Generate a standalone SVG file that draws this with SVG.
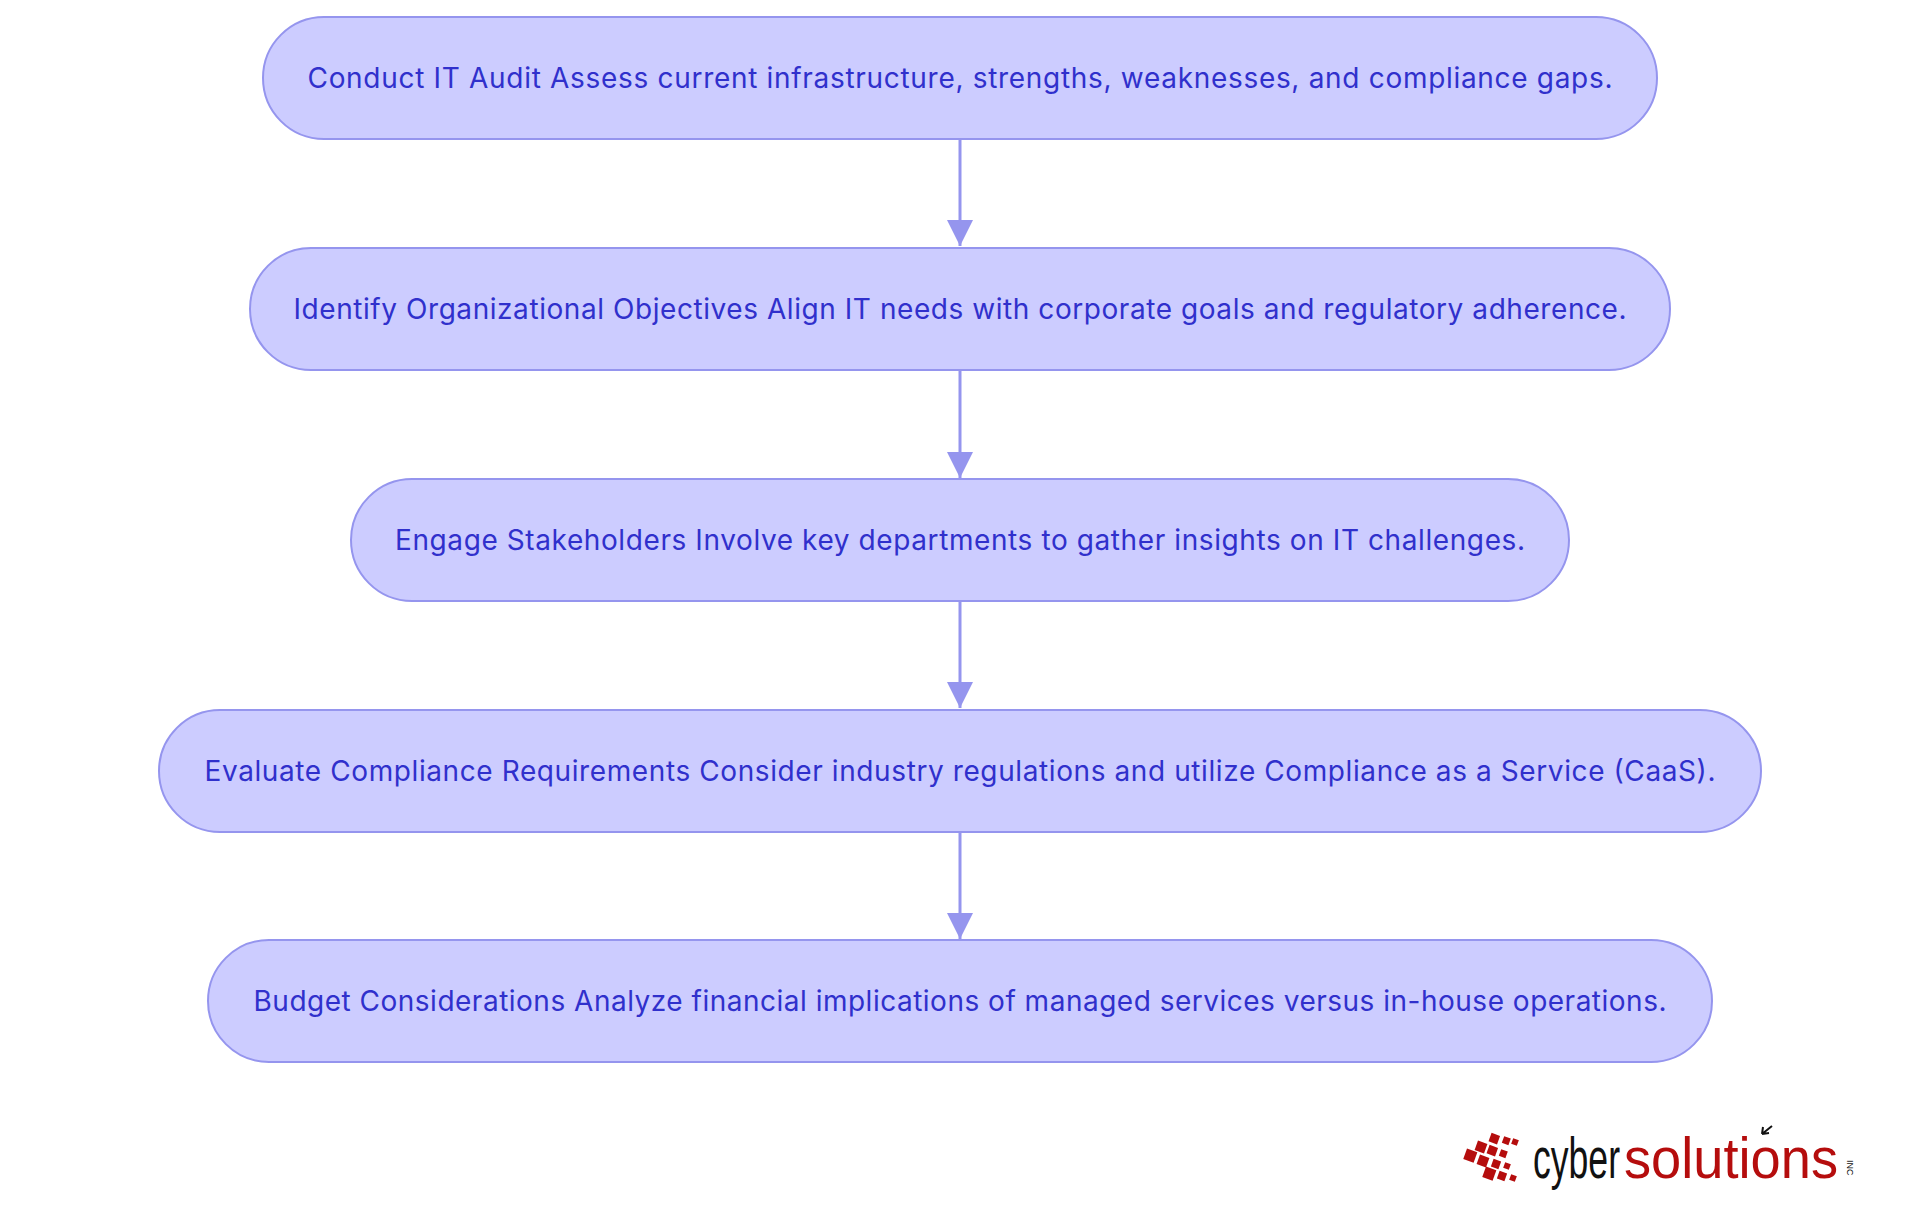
<svg xmlns="http://www.w3.org/2000/svg" width="1920" height="1215" viewBox="0 0 1920 1215">
<style>
.n rect{fill:#ccccff;stroke:#9595ee;stroke-width:2}
.n text{font-family:Inter,"Noto Sans",sans-serif;font-size:28px;fill:#3030cc;text-anchor:middle;dominant-baseline:central}
.c line{stroke:#9595ee;stroke-width:3}
.sq{fill:#b50d0d}
.lg{font-family:"Liberation Sans",sans-serif;font-size:58px}
</style>
<defs>
<marker id="b" viewBox="0 0 10 10" markerWidth="26" markerHeight="26" refX="10" refY="5" orient="auto" markerUnits="userSpaceOnUse"><path d="M0,0L10,5L0,10z" fill="#9595ee"/></marker></defs>
<rect width="1920" height="1215" fill="#fff"/>
<g class="c">
<line x1="960" y1="139" x2="960" y2="246" marker-end="url(#b)"/>
<line x1="960" y1="371" x2="960" y2="478" marker-end="url(#b)"/>
<line x1="960" y1="601" x2="960" y2="708" marker-end="url(#b)"/>
<line x1="960" y1="832" x2="960" y2="939" marker-end="url(#b)"/>
</g>
<g id="n1" class="n"><rect x="263" y="17" width="1394" height="122" rx="61"/><text x="960" y="78" textLength="1305">Conduct IT Audit Assess current infrastructure, strengths, weaknesses, and compliance gaps.</text></g>
<g id="n2" class="n"><rect x="250" y="248" width="1420" height="122" rx="61"/><text x="960" y="309" textLength="1333">Identify Organizational Objectives Align IT needs with corporate goals and regulatory adherence.</text></g>
<g id="n3" class="n"><rect x="351" y="479" width="1218" height="122" rx="61"/><text x="960" y="540" textLength="1130">Engage Stakeholders Involve key departments to gather insights on IT challenges.</text></g>
<g id="n4" class="n"><rect x="159" y="710" width="1602" height="122" rx="61"/><text x="960" y="771" textLength="1511">Evaluate Compliance Requirements Consider industry regulations and utilize Compliance as a Service (CaaS).</text></g>
<g id="n5" class="n"><rect x="208" y="940" width="1504" height="122" rx="61"/><text x="960" y="1001" textLength="1413">Budget Considerations Analyze financial implications of managed services versus in-house operations.</text></g>
<g id="logo">
<g class="sq">
<rect x="1490" y="1134" width="9" height="9" transform="rotate(20 1494 1138)"/>
<rect x="1503" y="1137" width="7" height="7" transform="rotate(20 1506 1140)"/>
<rect x="1512" y="1139" width="6" height="6" transform="rotate(20 1515 1142)"/>
<rect x="1476" y="1142" width="10" height="10" transform="rotate(20 1481 1147)"/>
<rect x="1488" y="1146" width="9" height="9" transform="rotate(20 1492 1150)"/>
<rect x="1500" y="1150" width="7" height="7" transform="rotate(20 1503 1153)"/>
<rect x="1465" y="1150" width="11" height="11" transform="rotate(20 1470 1155)"/>
<rect x="1478" y="1156" width="10" height="10" transform="rotate(20 1483 1161)"/>
<rect x="1492" y="1160" width="8" height="8" transform="rotate(20 1496 1164)"/>
<rect x="1504" y="1163" width="6" height="6" transform="rotate(20 1507 1166)"/>
<rect x="1484" y="1168" width="11" height="11" transform="rotate(20 1489 1173)"/>
<rect x="1498" y="1172" width="8" height="8" transform="rotate(20 1502 1176)"/>
<rect x="1510" y="1175" width="6" height="6" transform="rotate(20 1513 1178)"/>
</g>
<text class="lg" x="1533" y="1178" fill="#111" textLength="87" lengthAdjust="spacingAndGlyphs">cyber</text>
<text class="lg" x="1624" y="1178" fill="#b50d0d" textLength="214" lengthAdjust="spacingAndGlyphs">solutions</text>
<text x="1847" y="1160" font-family="'Liberation Sans',sans-serif" font-size="9" fill="#111" transform="rotate(90 1847 1160)">INC</text>
<path d="M1772 1126L1762 1134M1762 1134l1-7M1762 1134l7-1" stroke="#111" stroke-width="2" fill="none"/>
</g>
</svg>
